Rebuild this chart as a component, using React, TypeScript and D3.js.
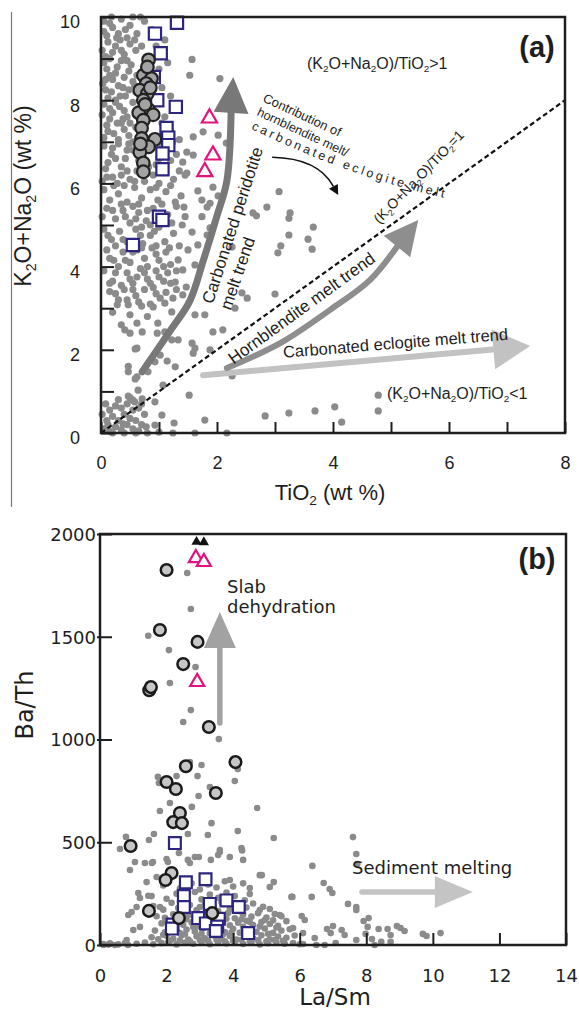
import React, { useEffect, useRef } from "react";
import * as d3 from "d3";

type Pt = [number, number];

// ---------- panel (a): TiO2 (wt %) vs K2O+Na2O (wt %) ----------
const tiAlkGray: Pt[] = [
  [0.05, 9.9], [0.2, 9.75], [0.35, 9.95], [0.5, 9.8], [0.62, 9.6], [0.1, 9.55], [0.3, 9.6], [0.75, 9.9], [0.45, 9.5], [0.88, 9.7], [0.55, 10.0], [0.18, 10.0], [0.68, 10.0],
  [0.02, 9.2], [0.12, 9.4], [0.25, 9.3], [0.4, 9.1], [0.5, 9.35], [0.6, 9.2], [0.33, 9.45], [0.08, 9.05], [0.95, 9.3], [1.1, 9.45], [0.2, 9.15],
  [0.05, 8.9], [0.15, 8.6], [0.28, 8.8], [0.4, 8.55], [0.52, 8.85], [0.62, 8.6], [0.1, 8.75], [0.35, 8.95], [0.2, 8.5], [0.48, 8.7], [1.0, 8.75], [1.15, 8.9],
  [0.03, 8.4], [0.18, 8.2], [0.3, 8.35], [0.42, 8.1], [0.55, 8.45], [0.6, 8.2], [0.12, 8.05], [0.25, 8.0], [0.38, 8.3], [1.05, 8.3], [1.2, 8.1], [0.08, 8.25],
  [0.05, 7.9], [0.2, 7.7], [0.32, 7.85], [0.45, 7.6], [0.55, 7.95], [0.15, 7.55], [0.38, 7.55], [0.6, 7.7], [1.1, 7.6], [1.25, 7.8], [0.25, 7.95], [0.02, 7.65],
  [0.1, 7.4], [0.22, 7.2], [0.35, 7.45], [0.48, 7.15], [0.6, 7.35], [0.05, 7.1], [0.3, 7.05], [1.05, 7.45], [1.2, 7.25], [1.35, 7.05], [0.55, 7.0], [0.4, 7.3],
  [0.05, 6.9], [0.18, 6.7], [0.3, 6.95], [0.42, 6.6], [0.55, 6.8], [0.65, 6.55], [0.12, 6.5], [0.25, 6.6], [1.15, 6.9], [1.3, 6.7], [0.48, 6.95], [1.0, 6.6],
  [0.08, 6.35], [0.2, 6.15], [0.35, 6.4], [0.5, 6.1], [0.62, 6.3], [0.75, 6.05], [0.9, 6.2], [1.1, 6.4], [1.25, 6.1], [0.02, 6.05], [0.28, 6.0], [0.45, 6.3], [1.0, 6.0],
  [0.05, 5.85], [0.15, 5.6], [0.3, 5.75], [0.45, 5.55], [0.58, 5.9], [0.7, 5.65], [0.85, 5.85], [0.98, 5.6], [1.12, 5.8], [1.28, 5.55], [0.22, 5.95], [0.4, 5.95], [0.65, 5.5], [1.2, 5.95],
  [0.1, 5.4], [0.25, 5.15], [0.38, 5.35], [0.5, 5.05], [0.65, 5.3], [0.78, 5.1], [0.9, 5.4], [1.15, 5.25], [1.3, 5.45], [0.02, 5.2], [0.55, 5.45], [1.22, 5.05], [0.85, 5.0],
  [0.05, 4.9], [0.18, 4.65], [0.32, 4.85], [0.45, 4.6], [0.6, 4.9], [0.72, 4.55], [0.85, 4.75], [1.0, 4.95], [1.1, 4.6], [1.25, 4.8], [0.25, 4.5], [0.95, 4.5], [0.68, 4.75],
  [0.1, 4.4], [0.22, 4.15], [0.38, 4.35], [0.5, 4.1], [0.62, 4.4], [0.75, 4.2], [0.88, 4.45], [1.0, 4.15], [1.12, 4.35], [1.2, 4.05], [0.3, 4.0], [0.8, 4.0],
  [0.05, 3.9], [0.2, 3.65], [0.45, 3.85], [0.55, 3.6], [0.68, 3.95], [0.8, 3.7], [0.95, 3.9], [1.08, 3.65], [1.15, 3.85], [0.35, 3.55], [0.9, 3.5], [0.62, 3.75],
  [0.15, 3.4], [0.3, 3.2], [0.6, 3.3], [0.75, 3.45], [0.85, 3.1], [1.3, 3.45], [0.4, 3.45], [0.7, 3.05],
  [0.2, 2.9], [0.8, 2.8], [0.35, 2.6],
  [0.15, 9.85], [0.42, 9.7], [0.27, 9.5], [0.58, 9.45], [0.7, 9.3], [0.05, 9.65], [0.35, 9.2], [0.15, 9.0], [0.45, 8.95], [0.25, 8.65],
  [0.58, 8.35], [0.08, 8.5], [0.33, 8.1], [0.48, 8.25], [0.15, 7.8], [0.4, 7.75], [0.28, 7.45], [0.5, 7.45], [0.12, 7.25], [0.45, 6.8],
  [0.2, 6.85], [0.35, 6.2], [0.58, 6.05], [0.7, 6.4], [0.82, 6.4], [0.95, 6.45], [1.2, 6.55], [0.1, 6.15], [0.95, 5.9], [0.35, 5.5],
  [0.8, 5.35], [1.05, 5.5], [1.05, 5.05], [0.6, 5.15], [0.2, 5.35], [0.42, 5.2], [0.7, 4.95], [0.12, 4.75], [0.38, 4.65], [0.92, 4.85],
  [1.18, 4.45], [0.55, 4.35], [0.15, 4.2], [0.7, 4.45], [0.95, 4.3], [0.42, 4.15], [1.08, 4.0], [0.25, 3.85], [0.75, 3.85], [1.0, 3.75],
  [0.5, 3.7], [0.15, 3.6], [0.85, 3.6], [1.2, 3.6], [0.55, 3.45], [0.25, 3.35], [0.95, 3.35], [1.12, 3.38], [0.45, 3.2], [0.65, 3.15],
  [1.3, 3.9], [1.35, 4.5], [1.4, 5.0], [1.38, 5.7], [1.35, 6.3], [1.05, 6.95], [1.2, 7.0],
  [1.57, 8.98], [1.53, 8.6], [2.05, 8.52], [1.76, 7.24], [2.02, 7.16], [1.59, 7.12], [2.16, 6.97], [1.48, 6.75], [1.59, 6.68], [1.41, 6.51],
  [1.48, 6.25], [1.67, 5.82], [1.74, 5.6], [1.93, 5.91], [1.83, 5.43], [2.02, 5.7], [2.62, 5.29], [2.68, 5.22], [3.07, 5.8], [3.26, 5.29],
  [1.45, 6.2], [1.88, 5.52], [1.43, 5.43], [1.45, 5.2], [1.74, 5.2], [1.83, 4.76], [1.57, 4.83], [1.67, 4.52], [1.88, 4.93], [1.33, 4.16],
  [1.5, 4.4], [1.41, 3.92], [1.62, 4.04], [1.28, 3.63], [1.47, 3.51], [2.26, 4.47], [2.43, 3.37],
  [2.86, 5.43], [3.24, 5.16], [3.66, 4.95], [3.24, 4.76], [3.57, 4.66], [3.1, 4.5], [3.64, 4.42], [3.05, 4.33],
  [0.28, 3.08], [0.47, 3.08], [0.5, 2.84], [0.41, 2.48], [0.5, 2.4], [0.71, 2.43], [0.62, 2.64], [0.47, 1.47], [0.59, 2.02], [0.62, 1.35],
  [0.64, 1.03], [0.47, 0.89], [0.55, 0.79], [0.71, 0.82], [0.93, 0.75], [1.07, 1.15], [1.52, 0.91], [1.05, 0.43], [1.26, 0.24], [0.93, 0.19],
  [1.79, 0.31], [2.26, 1.37], [2.83, 0.41], [3.24, 0.48], [1.62, 0.0], [2.17, 0.0], [1.24, 0.0], [1.0, 0.02], [0.8, 0.0],
  [1.02, 3.24], [0.9, 3.03], [1.1, 3.12], [1.24, 3.24], [1.41, 3.32], [1.22, 2.91], [0.98, 2.64], [0.97, 2.4], [1.1, 2.43], [1.22, 2.24],
  [1.33, 2.24], [1.62, 2.84], [1.57, 2.16], [1.62, 2.04], [1.59, 1.92], [1.28, 1.59], [1.14, 1.73], [1.02, 1.87], [0.93, 1.71], [0.81, 1.47],
  [1.79, 2.84], [1.93, 2.43], [2.1, 2.48], [1.88, 2.0], [2.31, 3.0], [2.52, 3.24], [3.0, 3.34], [0.62, 2.04], [0.47, 1.6], [0.59, 1.3],
  [3.69, 0.53], [4.03, 0.63], [4.15, 0.26], [4.78, 0.91], [4.78, 0.53],
  [0.05, 0.1], [0.15, 0.05], [0.25, 0.15], [0.35, 0.08], [0.45, 0.2], [0.55, 0.1], [0.65, 0.05], [0.1, 0.3], [0.2, 0.4], [0.3, 0.3],
  [0.4, 0.45], [0.5, 0.35], [0.6, 0.3], [0.7, 0.2], [0.15, 0.55], [0.25, 0.65], [0.35, 0.6], [0.45, 0.7], [0.55, 0.55], [0.65, 0.6],
  [0.08, 0.7], [0.3, 0.8], [0.5, 0.85], [0.75, 0.45], [0.78, 0.15], [0.02, 0.45], [0.4, 0.0], [0.6, 0.0], [0.2, 0.0], [0.7, 0.7],
  [0.12, 0.2], [0.38, 0.22], [0.58, 0.75],
];
const tiAlkCircles: Pt[] = [
  [0.82, 8.97], [0.73, 8.6], [0.87, 8.52], [0.78, 8.4], [0.8, 8.8], [0.67, 8.24], [0.8, 8.16], [0.73, 8.0], [0.82, 7.77], [0.65, 7.7], [0.9, 7.65],
  [0.73, 7.52], [0.7, 7.33], [0.7, 7.08], [0.93, 7.06], [0.82, 6.88], [0.67, 6.75], [0.73, 6.49], [0.73, 6.28], [0.85, 8.3], [0.76, 7.9], [0.68, 6.95],
];
const tiAlkSquares: Pt[] = [
  [1.31, 9.86], [0.93, 9.6], [1.03, 9.13], [0.91, 8.56], [0.97, 8.0], [1.29, 7.84], [1.13, 7.33], [1.16, 7.1], [1.16, 6.92], [1.06, 6.72],
  [1.06, 6.34], [1.0, 5.2], [1.06, 5.12], [0.55, 4.52],
];
const tiAlkTriangles: Pt[] = [[1.87, 7.57], [1.93, 6.68], [1.79, 6.28]];
const tiTicks = [0, 1, 2, 3, 4, 5, 6, 7, 8];
const alkTicks = [0, 1, 2, 3, 4, 5, 6, 7, 8, 9, 10];
const ratioLine: Pt[] = [[0, 0], [8, 8]];
const peridotiteTrend: Pt[] = [[0.71, 1.47], [1.19, 2.45], [1.53, 3.17], [1.76, 4.13], [2.0, 5.22], [2.17, 6.06], [2.28, 8.56]];
const hornblenditeTrend: Pt[] = [[2.17, 1.56], [3.09, 2.16], [3.95, 2.96], [4.64, 3.68], [5.47, 5.12]];
const eclogiteTrend: Pt[] = [[1.76, 1.39], [7.4, 2.09]];
const contributionArrow: Pt[] = [[2.95, 6.63], [3.74, 6.61], [4.09, 5.72]];

// ---------- panel (b): La/Sm vs Ba/Th ----------
const laBaGray: Pt[] = [
  [2.62, 1810], [2.73, 1635], [1.45, 1505], [2.07, 1435], [2.87, 1353], [2.1, 1275], [2.73, 1143], [2.5, 1085], [3.57, 1002], [2.7, 890],
  [3.05, 876], [4.14, 856], [1.74, 818], [1.77, 788], [2.3, 822], [2.93, 822], [3.3, 769], [4.05, 798], [2.96, 725], [2.1, 691],
  [2.76, 672], [1.8, 652], [4.72, 667], [3.35, 593], [4.14, 555], [1.62, 540], [0.78, 526], [2.64, 540], [3.24, 535], [5.22, 521],
  [0.6, 467], [1.47, 511], [0.9, 365], [1.05, 404], [1.56, 399], [2.0, 418], [2.64, 414], [2.97, 428], [2.37, 448], [3.33, 414],
  [3.6, 462], [3.55, 438], [3.9, 428], [4.25, 472], [4.3, 414], [4.8, 340], [5.22, 306], [5.75, 234], [5.4, 146], [1.4, 306],
  [1.7, 331], [1.15, 253], [1.2, 229], [0.85, 146], [0.95, 160], [1.1, 185], [1.55, 238], [1.8, 185], [1.0, 73], [1.2, 88],
  [0.8, 24], [0.45, 0], [3.6, 452], [4.27, 460], [4.86, 340], [5.1, 282], [4.5, 277], [3.9, 316], [1.35, 399], [1.59, 404],
  [2.04, 404], [2.7, 399], [2.85, 428], [0.84, 0], [0.25, 2], [0.1, 0],
  [7.6, 525], [7.7, 443], [7.73, 394], [6.38, 385], [6.72, 302], [6.9, 272], [6.98, 253], [5.78, 234], [6.36, 234], [7.45, 200],
  [7.7, 185], [7.7, 170], [6.06, 141], [6.15, 122], [7.92, 117], [8.07, 131], [7.0, 92], [6.82, 78], [6.93, 58], [7.26, 73],
  [7.35, 49], [8.04, 88], [7.98, 54], [8.37, 78], [8.64, 78], [8.73, 49], [8.73, 15], [8.92, 92], [9.03, 83], [9.15, 68],
  [9.7, 54], [9.81, 44], [10.23, 58], [8.17, 29], [8.25, 0], [8.45, 15], [7.7, 24], [7.08, 10], [6.75, 0], [6.45, 34],
  [6.1, 58], [5.8, 83], [6.5, 0], [6.1, 5],
  [0.1, 5], [0.3, 8], [0.55, 3], [0.75, 10], [1.1, 6], [1.35, 12], [1.6, 4], [1.85, 9], [2.05, 14], [2.3, 3], [2.55, 11], [2.8, 6],
  [3.05, 13], [3.3, 4], [3.55, 10], [3.8, 7], [4.05, 14], [4.3, 5], [4.55, 11], [4.8, 3], [5.05, 9], [5.3, 13], [5.55, 6], [5.8, 10], [6.0, 4],
  [1.55, 38], [1.75, 28], [2.0, 45], [2.2, 30], [2.45, 48], [2.65, 26], [2.9, 42], [3.15, 32], [3.4, 47], [3.65, 29], [3.9, 44],
  [4.1, 27], [4.35, 40], [4.6, 33], [4.85, 47], [5.1, 28], [5.35, 41], [5.6, 35], [5.85, 46],
  [1.65, 70], [1.95, 62], [2.15, 80], [2.4, 58], [2.6, 75], [2.85, 66], [3.1, 82], [3.3, 57], [3.55, 72], [3.75, 63], [4.0, 79],
  [4.2, 60], [4.45, 74], [4.7, 64], [4.95, 80], [5.2, 59], [5.45, 70], [5.7, 77],
  [1.85, 105], [2.05, 95], [2.3, 115], [2.5, 98], [2.75, 110], [2.95, 92], [3.2, 118], [3.45, 101], [3.7, 113], [3.9, 96], [4.15, 108],
  [4.4, 118], [4.6, 97], [4.85, 112], [5.1, 102], [5.35, 94], [5.6, 116],
  [1.7, 140], [1.95, 132], [2.2, 150], [2.4, 128], [2.65, 145], [2.9, 158], [3.1, 135], [3.35, 150], [3.6, 142], [3.85, 156], [4.05, 130],
  [4.3, 148], [4.55, 138], [4.75, 155], [5.0, 133], [5.25, 151],
  [1.6, 190], [1.9, 172], [2.15, 205], [2.35, 180], [2.7, 195], [2.9, 170], [3.15, 200], [3.4, 178], [3.65, 208], [3.9, 175], [4.1, 198],
  [4.4, 182], [4.6, 202], [4.9, 186],
  [1.45, 240], [2.0, 225], [2.3, 250], [2.55, 232], [2.85, 258], [3.05, 222], [3.3, 245], [3.55, 230], [3.8, 255], [4.05, 238], [4.35, 218], [4.5, 248],
  [1.9, 290], [2.4, 275], [2.75, 300], [3.0, 270], [3.25, 295], [3.5, 280], [3.75, 310], [4.0, 285], [4.3, 300], [3.1, 320],
  [2.1, 20], [2.4, 22], [2.7, 18], [3.0, 24], [3.25, 20], [3.5, 25], [3.75, 18], [4.0, 22], [4.25, 25], [4.5, 19], [4.75, 23], [5.0, 18],
  [5.25, 24], [5.5, 20], [1.9, 50], [2.3, 65], [2.55, 52], [2.8, 88], [3.05, 55], [3.45, 85], [3.7, 52], [3.95, 60], [4.3, 88], [4.55, 55],
  [4.8, 90], [5.05, 55], [5.3, 85], [2.0, 120], [2.6, 125], [2.85, 135], [3.25, 125], [3.5, 128], [3.8, 128], [4.25, 125], [4.5, 112],
  [4.95, 122], [5.2, 120], [5.45, 140], [2.45, 165], [3.0, 185], [3.55, 165], [4.2, 165], [4.8, 170], [5.1, 175],
];
const laBaCircles: Pt[] = [
  [2.0, 1825], [1.8, 1533], [2.93, 1475], [2.5, 1367], [1.48, 1240], [1.53, 1255], [3.27, 1061], [4.07, 890], [2.58, 870], [2.0, 793],
  [2.28, 759], [3.48, 740], [2.4, 642], [2.2, 598], [2.46, 593], [0.92, 482], [2.15, 350], [1.97, 316], [1.47, 166], [2.37, 131], [3.37, 155],
];
const laBaSquares: Pt[] = [
  [2.25, 496], [2.58, 305], [3.17, 320], [2.52, 238], [2.52, 185], [3.3, 200], [3.8, 217], [4.17, 185], [2.95, 131], [3.18, 105],
  [3.57, 128], [3.52, 90], [3.48, 68], [2.18, 100], [2.16, 80], [4.45, 58],
];
const laBaTriangles: Pt[] = [[2.88, 1883], [3.12, 1864], [2.92, 1280]];
const laBaBlack: Pt[] = [[2.9, 1962], [3.12, 1960]];
const laTicks = [0, 2, 4, 6, 8, 10, 12, 14];
const baTicks = [0, 500, 1000, 1500, 2000];
const slabTrend: Pt[] = [[3.6, 1080], [3.6, 1620]];
const sedimentTrend: Pt[] = [[7.87, 258], [11.2, 258]];

const FONT_A = "'Liberation Sans', Arial, sans-serif";
const FONT_B = "'DejaVu Sans', Verdana, sans-serif";
const INK = "#1e1e1e";

// text with "_2" style subscripts
function rich(sel: any, str: string, size: number) {
  const parts = str.split(/_(\d)/);
  parts.forEach((s, i) => {
    if (!s) return;
    const t = sel.append("tspan").text(s);
    if (i % 2 === 1) t.attr("font-size", size * 0.62).attr("dy", size * 0.22);
    else {
      t.attr("font-size", size);
      if (i > 1) t.attr("dy", -size * 0.22);
    }
  });
}

function label(g: any, x: number, y: number, angle: number, str: string, size: number, family: string, extra: any = {}) {
  const t = g
    .append("text")
    .attr("transform", `translate(${x},${y}) rotate(${angle})`)
    .attr("y", size * 0.35)
    .attr("font-family", family)
    .attr("font-size", size)
    .attr("fill", INK);
  Object.keys(extra).forEach(k => t.attr(k, extra[k]));
  rich(t, str, size);
  return t;
}

// shaft + triangular head, points in pixels
function arrow(g: any, pts: Pt[], color: string, width: number, headLen: number, headHalf: number, curved: boolean) {
  const tip = pts[pts.length - 1];
  const prev = pts[pts.length - 2];
  const len = Math.hypot(tip[0] - prev[0], tip[1] - prev[1]);
  const ux = (tip[0] - prev[0]) / len, uy = (tip[1] - prev[1]) / len;
  const bx = tip[0] - ux * headLen, by = tip[1] - uy * headLen;
  const shaft: Pt[] = pts.slice(0, -1).concat([[bx + ux * 2, by + uy * 2]]);
  const line = d3.line().curve(curved ? d3.curveCatmullRom : d3.curveLinear);
  g.append("path").attr("d", line(shaft)).attr("fill", "none").attr("stroke", color)
    .attr("stroke-width", width).attr("stroke-linecap", "round");
  g.append("path")
    .attr("d", `M${tip[0]},${tip[1]}L${bx - uy * headHalf},${by + ux * headHalf}L${bx + uy * headHalf},${by - ux * headHalf}Z`)
    .attr("fill", color);
}

function drawPanelA(svg: any) {
  const x = d3.scaleLinear().domain([0, 8]).range([101, 565]);
  const y = d3.scaleLinear().domain([0, 10]).range([433, 17]);
  const g = svg.append("g").attr("font-family", FONT_A);
  const P = (d: Pt): Pt => [x(d[0]), y(d[1])];

  // gray samples
  g.append("g").selectAll("circle").data(tiAlkGray).join("circle")
    .attr("cx", d => x(d[0])).attr("cy", d => y(d[1])).attr("r", 3.6).attr("fill", "#8b8b8b");

  // ratio = 1 line
  g.append("path").attr("d", d3.line()(ratioLine.map(P))).attr("stroke", "#111").attr("stroke-width", 2.2)
    .attr("stroke-dasharray", "5,3").attr("fill", "none");

  // trend arrows
  arrow(g, eclogiteTrend.map(P), "#c2c2c2", 6, 37, 20, false);
  arrow(g, hornblenditeTrend.map(P), "#8e8e8e", 6, 34, 17, true);
  arrow(g, peridotiteTrend.map(P), "#787878", 7, 36, 17.5, true);

  // black curved arrow
  const [c0, c1, c2] = contributionArrow.map(P);
  const dx = c2[0] - c1[0], dy = c2[1] - c1[1], dl = Math.hypot(dx, dy);
  const ux = dx / dl, uy = dy / dl;
  const bx = c2[0] - ux * 10, by = c2[1] - uy * 10;
  const cp = d3.path();
  cp.moveTo(c0[0], c0[1]);
  cp.quadraticCurveTo(c1[0], c1[1], bx, by);
  g.append("path").attr("d", cp.toString()).attr("fill", "none").attr("stroke", "#111").attr("stroke-width", 1.6);
  g.append("path").attr("d", `M${c2[0]},${c2[1]}L${bx - uy * 5},${by + ux * 5}L${bx + uy * 5},${by - ux * 5}Z`).attr("fill", "#111");

  // samples
  g.append("g").selectAll("path").data(tiAlkSquares).join("path")
    .attr("transform", d => `translate(${x(d[0])},${y(d[1])})`)
    .attr("d", d3.symbol(d3.symbolSquare, 150)()).attr("fill", "#fff").attr("stroke", "#2c2682").attr("stroke-width", 2.2);
  g.append("g").selectAll("circle").data(tiAlkCircles).join("circle")
    .attr("cx", d => x(d[0])).attr("cy", d => y(d[1])).attr("r", 6.3)
    .attr("fill", "#a3a3a3").attr("stroke", "#222").attr("stroke-width", 2.2);
  g.append("g").selectAll("path").data(tiAlkTriangles).join("path")
    .attr("transform", d => `translate(${x(d[0])},${y(d[1])})`)
    .attr("d", d3.symbol(d3.symbolTriangle, 100)()).attr("fill", "#fff").attr("stroke", "#e2137f").attr("stroke-width", 2.2);

  // frame + axes
  g.append("rect").attr("x", 101).attr("y", 17).attr("width", 464).attr("height", 416)
    .attr("fill", "none").attr("stroke", INK).attr("stroke-width", 2.5);
  const xa = g.append("g").attr("transform", "translate(0,433)")
    .call(d3.axisBottom(x).tickValues(tiTicks).tickSizeInner(-11).tickSizeOuter(0).tickFormat((d: any) => (d % 2 === 0 ? String(d) : "")));
  const ya = g.append("g").attr("transform", "translate(101,0)")
    .call(d3.axisLeft(y).tickValues(alkTicks).tickSizeInner(-13).tickSizeOuter(0).tickFormat((d: any) => (d % 2 === 0 ? String(d) : "")));
  [xa, ya].forEach(a => {
    a.select(".domain").remove();
    a.selectAll("line").attr("stroke", INK).attr("stroke-width", 2);
    a.selectAll("text").attr("font-family", FONT_A).attr("font-size", 18).attr("fill", INK);
  });
  xa.selectAll("text").attr("y", 36).attr("dy", null);
  ya.selectAll("text").attr("x", -21).attr("dy", "0.6em");

  // axis titles
  label(g, 330, 492, 0, "TiO_2 (wt %)", 22, FONT_A, { "text-anchor": "middle" });
  label(g, 23, 196, -90, "K_2O+Na_2O (wt %)", 23, FONT_A, { "text-anchor": "middle" });
  g.append("text").attr("x", 537).attr("y", 57).attr("text-anchor", "middle").attr("font-size", 29)
    .attr("font-weight", "bold").attr("fill", INK).text("(a)");

  // annotations
  label(g, 307, 63, 0, "(K_2O+Na_2O)/TiO_2>1", 16, FONT_A);
  label(g, 264, 97, 25, "Contribution of", 13, FONT_A);
  label(g, 258, 111, 25, "hornblendite melt/", 12.5, FONT_A);
  svg.append("defs").append("path").attr("id", "contribArc").attr("d", "M251,129 C300,152 365,181 454,200");
  g.append("text").attr("font-size", 12.5).attr("fill", INK).attr("letter-spacing", 3)
    .append("textPath").attr("href", "#contribArc").text("carbonated eclogite melt");
  label(g, 376, 221, -46, "(K_2O+Na_2O)/TiO_2=1", 14, FONT_A);
  label(g, 207, 303, -72, "Carbonated peridotite", 17, FONT_A);
  label(g, 225, 309, -71, "melt trend", 17, FONT_A);
  label(g, 230, 360, -36, "Hornblendite melt trend", 17, FONT_A);
  label(g, 283, 352, -4.6, "Carbonated eclogite melt trend", 16.5, FONT_A);
  label(g, 387, 393, 0, "(K_2O+Na_2O)/TiO_2<1", 16, FONT_A);
}

function drawPanelB(svg: any) {
  const x = d3.scaleLinear().domain([0, 14]).range([100, 566]);
  const y = d3.scaleLinear().domain([0, 2000]).range([945, 534]);
  const g = svg.append("g").attr("font-family", FONT_B);
  const P = (d: Pt): Pt => [x(d[0]), y(d[1])];

  g.append("g").selectAll("circle").data(laBaGray).join("circle")
    .attr("cx", d => x(d[0])).attr("cy", d => y(d[1])).attr("r", 3.3).attr("fill", "#8b8b8b");

  arrow(g, slabTrend.map(P), "#a2a2a2", 5.5, 36, 16, false);
  arrow(g, sedimentTrend.map(P), "#c4c4c4", 5.5, 38, 16, false);

  g.append("g").selectAll("path").data(laBaSquares).join("path")
    .attr("transform", d => `translate(${x(d[0])},${y(d[1])})`)
    .attr("d", d3.symbol(d3.symbolSquare, 140)()).attr("fill", "#fff").attr("stroke", "#2c2682").attr("stroke-width", 2.2);
  g.append("g").selectAll("circle").data(laBaCircles).join("circle")
    .attr("cx", d => x(d[0])).attr("cy", d => y(d[1])).attr("r", 5.8)
    .attr("fill", "#c6c6c6").attr("stroke", "#1a1a1a").attr("stroke-width", 2.5);
  g.append("g").selectAll("path").data(laBaTriangles).join("path")
    .attr("transform", d => `translate(${x(d[0])},${y(d[1])})`)
    .attr("d", d3.symbol(d3.symbolTriangle, 85)()).attr("fill", "#fff").attr("stroke", "#e2137f").attr("stroke-width", 2.2);
  g.append("g").selectAll("path").data(laBaBlack).join("path")
    .attr("transform", d => `translate(${x(d[0])},${y(d[1])})`)
    .attr("d", d3.symbol(d3.symbolTriangle, 45)()).attr("fill", "#111");

  g.append("rect").attr("x", 100).attr("y", 534).attr("width", 466).attr("height", 411)
    .attr("fill", "none").attr("stroke", INK).attr("stroke-width", 2.5);
  const xa = g.append("g").attr("transform", "translate(0,945)")
    .call(d3.axisBottom(x).tickValues(laTicks).tickSizeInner(-12).tickSizeOuter(0));
  const ya = g.append("g").attr("transform", "translate(100,0)")
    .call(d3.axisLeft(y).tickValues(baTicks).tickSizeInner(-12).tickSizeOuter(0).tickFormat(d3.format("d")));
  [xa, ya].forEach(a => {
    a.select(".domain").remove();
    a.selectAll("line").attr("stroke", INK).attr("stroke-width", 2);
    a.selectAll("text").attr("font-family", FONT_B).attr("font-size", 18).attr("fill", INK);
  });
  xa.selectAll("text").attr("y", 37).attr("dy", null);
  ya.selectAll("line").attr("x1", -3);
  ya.selectAll("text").attr("x", -4).attr("dy", "0.36em");

  g.append("text").attr("x", 335).attr("y", 1005).attr("text-anchor", "middle").attr("font-size", 23).attr("fill", INK).text("La/Sm");
  g.append("text").attr("transform", "translate(33,705) rotate(-90)").attr("text-anchor", "middle").attr("font-size", 24)
    .attr("fill", INK).text("Ba/Th");
  g.append("text").attr("x", 537).attr("y", 569).attr("text-anchor", "middle").attr("font-size", 29)
    .attr("font-family", FONT_A).attr("font-weight", "bold").attr("fill", INK).text("(b)");

  label(g, 227, 587, 0, "Slab", 18, FONT_B);
  label(g, 227, 607, 0, "dehydration", 18, FONT_B);
  label(g, 352, 868, 0, "Sediment melting", 18, FONT_B);
}

export default function App() {
  const ref = useRef<SVGSVGElement>(null);
  useEffect(() => {
    const svg = d3.select(ref.current);
    svg.selectAll("*").remove();
    svg.append("rect").attr("width", 579).attr("height", 1012).attr("fill", "#fff");
    svg.append("line").attr("x1", 11.5).attr("x2", 11.5).attr("y1", 12).attr("y2", 507)
      .attr("stroke", "#7a7a7a").attr("stroke-width", 1.2);
    drawPanelA(svg);
    drawPanelB(svg);
  }, []);
  return (
    <svg ref={ref} width={579} height={1012} style={{ position: "absolute", left: 0, top: 0 }} />
  );
}
